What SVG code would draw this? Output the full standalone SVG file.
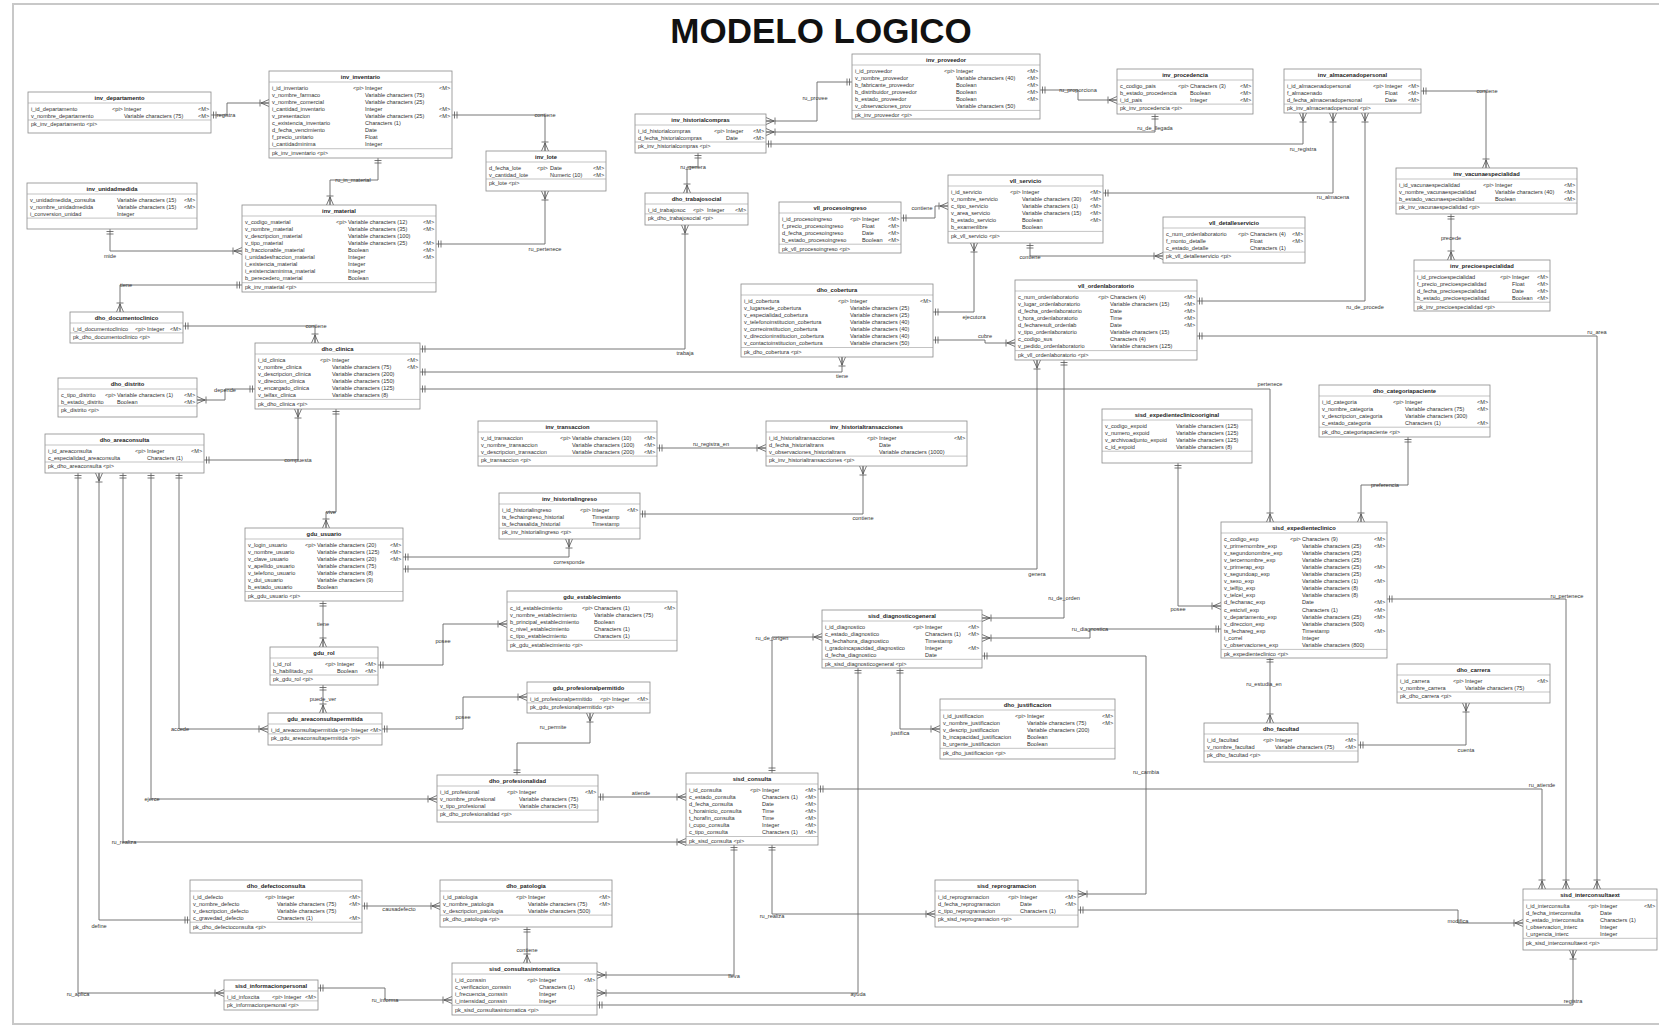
<svg xmlns="http://www.w3.org/2000/svg" width="1659" height="1027" viewBox="0 0 1659 1027">
<style>
.b{fill:#fff;stroke:#8a8a8a;stroke-width:0.8}
.s{stroke:#9a9a9a;stroke-width:0.6;fill:none}
.tt{font:bold 5.8px "Liberation Sans",Arial,sans-serif;fill:#222;text-anchor:middle}
.r{font:5.6px "Liberation Sans",Arial,sans-serif;fill:#333}
.c{fill:none;stroke:#666;stroke-width:0.9;marker-start:url(#one);marker-end:url(#many)}
.l{font:5.6px "Liberation Sans",Arial,sans-serif;fill:#333;text-anchor:middle}
.h{font:bold 35px "Liberation Sans",Arial,sans-serif;fill:#111;text-anchor:middle}
</style>
<defs>
<marker id="many" viewBox="0 0 10 10" refX="10" refY="5" markerWidth="10" markerHeight="10" markerUnits="userSpaceOnUse" orient="auto"><path d="M2 5L10 1.5M2 5L10 8.5M2 5H10M1 1.5V8.5" fill="none" stroke="#555" stroke-width="0.8"/></marker>
<marker id="one" viewBox="0 0 10 10" refX="10" refY="5" markerWidth="10" markerHeight="10" markerUnits="userSpaceOnUse" orient="auto-start-reverse"><path d="M5 1.5V8.5M7.5 1.5V8.5" fill="none" stroke="#555" stroke-width="0.8"/></marker>
</defs>
<rect x="0" y="0" width="1659" height="1027" fill="#fff"/>
<rect x="13" y="4" width="1660" height="1020" fill="none" stroke="#c8c8c8" stroke-width="2"/>
<text class="h" x="821" y="43">MODELO LOGICO</text>

<g id="connectors">
<path class="c" d="M211 115H227V103H269"/><text class="l" x="226" y="117">registra</text>
<path class="c" d="M378 158V180H330V205"/><text class="l" x="353" y="182">ru_in_material</text>
<path class="c" d="M110 229V251H242"/><text class="l" x="110" y="258">mide</text>
<path class="c" d="M242 285H120V312"/><text class="l" x="126" y="287">tiene</text>
<path class="c" d="M183 326H315V343"/><text class="l" x="316" y="328">contiene</text>
<path class="c" d="M452 115H545V151"/><text class="l" x="545" y="117">contiene</text>
<path class="c" d="M436 244H545V191"/><text class="l" x="545" y="251">ru_pertenece</text>
<path class="c" d="M698 153V167H687V193"/><text class="l" x="693" y="169">ru_genera</text>
<path class="c" d="M420 349H685V225"/><text class="l" x="685" y="355">trabaja</text>
<path class="c" d="M852 82H817V121H766"/><text class="l" x="815" y="100">ru_provee</text>
<path class="c" d="M1040 90H1078V100H1117"/><text class="l" x="1078" y="92">ru_proporciona</text>
<path class="c" d="M1155 114V132H766"/><text class="l" x="1155" y="130">ru_de_llegada</text>
<path class="c" d="M766 144H1303V113"/><text class="l" x="1303" y="151">ru_registra</text>
<path class="c" d="M1103 193H1333V113"/><text class="l" x="1333" y="199">ru_almacena</text>
<path class="c" d="M1197 301H1365V113"/><text class="l" x="1365" y="309">ru_de_procede</text>
<path class="c" d="M1421 91H1486V168"/><text class="l" x="1487" y="93">contiene</text>
<path class="c" d="M1451 214V260"/><text class="l" x="1451" y="240">precede</text>
<path class="c" d="M901 218H935V206H948"/><text class="l" x="922" y="210">contiene</text>
<path class="c" d="M1030 243V256H1163"/><text class="l" x="1030" y="259">contiene</text>
<path class="c" d="M933 312H974V243"/><text class="l" x="974" y="319">ejecutora</text>
<path class="c" d="M933 340H985V343H1015"/><text class="l" x="985" y="338">cubre</text>
<path class="c" d="M1197 336H1597V889"/><text class="l" x="1597" y="334">ru_area</text>
<path class="c" d="M420 372H842V357"/><text class="l" x="842" y="378">tiene</text>
<path class="c" d="M420 389H1270V522"/><text class="l" x="1270" y="386">pertenece</text>
<path class="c" d="M403 569H1037V360"/><text class="l" x="1037" y="576">genera</text>
<path class="c" d="M1064 360V618H982"/><text class="l" x="1064" y="600">ru_de_orden</text>
<path class="c" d="M657 448H766"/><text class="l" x="711" y="446">ru_registra_en</text>
<path class="c" d="M640 514H863V466"/><text class="l" x="863" y="520">contiene</text>
<path class="c" d="M403 557H569V539"/><text class="l" x="569" y="564">corresponde</text>
<path class="c" d="M323 601V647"/><text class="l" x="323" y="626">tiene</text>
<path class="c" d="M336 409V512H326V528"/><text class="l" x="331" y="514">vive</text>
<path class="c" d="M204 460H298V409"/><text class="l" x="298" y="462">compuesta</text>
<path class="c" d="M255 389H225V400H197"/><text class="l" x="225" y="392">depende</text>
<path class="c" d="M378 665H443V624H507"/><text class="l" x="443" y="643">posee</text>
<path class="c" d="M323 685V713"/><text class="l" x="323" y="701">puede_ver</text>
<path class="c" d="M179 473V729H268"/><text class="l" x="180" y="731">accede</text>
<path class="c" d="M382 729H463V697H527"/><text class="l" x="463" y="719">posee</text>
<path class="c" d="M517 775V743H590V713"/><text class="l" x="553" y="729">ru_permite</text>
<path class="c" d="M598 797H686"/><text class="l" x="641" y="795">atiende</text>
<path class="c" d="M151 473V799H437"/><text class="l" x="152" y="801">ejerce</text>
<path class="c" d="M123 473V842H686"/><text class="l" x="124" y="844">ru_realiza</text>
<path class="c" d="M190 920H99V473"/><text class="l" x="99" y="928">define</text>
<path class="c" d="M78 473V993H224"/><text class="l" x="78" y="996">ru_aplica</text>
<path class="c" d="M362 906H440"/><text class="l" x="399" y="911">causadefecto</text>
<path class="c" d="M527 927V963"/><text class="l" x="527" y="952">contiene</text>
<path class="c" d="M734 845V975H597"/><text class="l" x="734" y="978">lleva</text>
<path class="c" d="M772 845V914H935"/><text class="l" x="772" y="918">ru_realiza</text>
<path class="c" d="M772 773V637H822"/><text class="l" x="772" y="640">ru_de_origen</text>
<path class="c" d="M818 789H1542V889"/><text class="l" x="1542" y="787">ru_atiende</text>
<path class="c" d="M900 668V729H940"/><text class="l" x="900" y="735">justifica</text>
<path class="c" d="M858 668V993H597"/><text class="l" x="858" y="996">ayuda</text>
<path class="c" d="M597 1005H1573V950"/><text class="l" x="1573" y="1003">registra</text>
<path class="c" d="M318 988H385V1000H452"/><text class="l" x="385" y="1002">ru_informa</text>
<path class="c" d="M982 656H1146V894H1078"/><text class="l" x="1146" y="774">ru_cambia</text>
<path class="c" d="M1078 910H1458V923H1523"/><text class="l" x="1458" y="923">modifica</text>
<path class="c" d="M1178 463V606H1221"/><text class="l" x="1178" y="611">posee</text>
<path class="c" d="M1221 629H1090V638H982"/><text class="l" x="1090" y="631">ru_diagnostica</text>
<path class="c" d="M1408 437V485H1361V522"/><text class="l" x="1385" y="487">preferencia</text>
<path class="c" d="M1387 599H1566V889"/><text class="l" x="1567" y="598">ru_pertenece</text>
<path class="c" d="M1270 657V723"/><text class="l" x="1264" y="686">ru_estudia_en</text>
<path class="c" d="M1358 745H1466V703"/><text class="l" x="1466" y="752">cuenta</text>
</g>

<g id="inv_departamento"><rect class="b" x="28" y="92" width="183" height="41"/><text class="tt" x="119.5" y="100">inv_departamento</text><path class="s" d="M28 103H211M28 120H211"/>
<text class="r" y="110.5"><tspan x="31">i_id_departamento</tspan><tspan x="112">&lt;pi&gt;</tspan><tspan x="124">Integer</tspan><tspan x="198">&lt;M&gt;</tspan></text>
<text class="r" y="117.6"><tspan x="31">v_nombre_departamento</tspan><tspan x="124">Variable characters (75)</tspan><tspan x="198">&lt;M&gt;</tspan></text>
<text class="r" x="31" y="126.3">pk_inv_departamento &lt;pi&gt;</text></g>

<g id="inv_inventario"><rect class="b" x="269" y="71" width="183" height="87"/><text class="tt" x="360.5" y="79">inv_inventario</text><path class="s" d="M269 82H452M269 148.7H452"/>
<text class="r" y="89.5"><tspan x="272">i_id_inventario</tspan><tspan x="353">&lt;pi&gt;</tspan><tspan x="365">Integer</tspan><tspan x="439">&lt;M&gt;</tspan></text>
<text class="r" y="96.6"><tspan x="272">v_nombre_farmaco</tspan><tspan x="365">Variable characters (75)</tspan></text>
<text class="r" y="103.7"><tspan x="272">v_nombre_comercial</tspan><tspan x="365">Variable characters (25)</tspan></text>
<text class="r" y="110.8"><tspan x="272">i_cantidad_inventario</tspan><tspan x="365">Integer</tspan><tspan x="439">&lt;M&gt;</tspan></text>
<text class="r" y="117.9"><tspan x="272">v_presentacion</tspan><tspan x="365">Variable characters (25)</tspan><tspan x="439">&lt;M&gt;</tspan></text>
<text class="r" y="125"><tspan x="272">c_existencia_inventario</tspan><tspan x="365">Characters (1)</tspan></text>
<text class="r" y="132.1"><tspan x="272">d_fecha_vencimiento</tspan><tspan x="365">Date</tspan></text>
<text class="r" y="139.2"><tspan x="272">f_precio_unitario</tspan><tspan x="365">Float</tspan></text>
<text class="r" y="146.3"><tspan x="272">i_cantidadminima</tspan><tspan x="365">Integer</tspan></text>
<text class="r" x="272" y="155">pk_inv_inventario &lt;pi&gt;</text></g>

<g id="inv_unidadmedida"><rect class="b" x="27" y="183" width="170" height="46"/><text class="tt" x="112" y="191">inv_unidadmedida</text><path class="s" d="M27 194H197M27 218.1H197"/>
<text class="r" y="201.5"><tspan x="30">v_unidadmedida_consulta</tspan><tspan x="117">Variable characters (15)</tspan><tspan x="184">&lt;M&gt;</tspan></text>
<text class="r" y="208.6"><tspan x="30">v_nombre_unidadmedida</tspan><tspan x="117">Variable characters (15)</tspan><tspan x="184">&lt;M&gt;</tspan></text>
<text class="r" y="215.7"><tspan x="30">i_conversion_unidad</tspan><tspan x="117">Integer</tspan></text></g>

<g id="inv_material"><rect class="b" x="242" y="205" width="194" height="87"/><text class="tt" x="339" y="213">inv_material</text><path class="s" d="M242 216H436M242 282.7H436"/>
<text class="r" y="223.5"><tspan x="245">v_codigo_material</tspan><tspan x="336">&lt;pi&gt;</tspan><tspan x="348">Variable characters (12)</tspan><tspan x="423">&lt;M&gt;</tspan></text>
<text class="r" y="230.6"><tspan x="245">v_nombre_material</tspan><tspan x="348">Variable characters (35)</tspan><tspan x="423">&lt;M&gt;</tspan></text>
<text class="r" y="237.7"><tspan x="245">v_descripcion_material</tspan><tspan x="348">Variable characters (100)</tspan></text>
<text class="r" y="244.8"><tspan x="245">v_tipo_material</tspan><tspan x="348">Variable characters (25)</tspan><tspan x="423">&lt;M&gt;</tspan></text>
<text class="r" y="251.9"><tspan x="245">b_fraccionable_material</tspan><tspan x="348">Boolean</tspan><tspan x="423">&lt;M&gt;</tspan></text>
<text class="r" y="259"><tspan x="245">i_unidadesfraccion_material</tspan><tspan x="348">Integer</tspan><tspan x="423">&lt;M&gt;</tspan></text>
<text class="r" y="266.1"><tspan x="245">i_existencia_material</tspan><tspan x="348">Integer</tspan></text>
<text class="r" y="273.2"><tspan x="245">i_existenciaminima_material</tspan><tspan x="348">Integer</tspan></text>
<text class="r" y="280.3"><tspan x="245">b_perecedero_material</tspan><tspan x="348">Boolean</tspan></text>
<text class="r" x="245" y="289">pk_inv_material &lt;pi&gt;</text></g>

<g id="inv_lote"><rect class="b" x="486" y="151" width="120" height="40"/><text class="tt" x="546" y="159">inv_lote</text><path class="s" d="M486 162H606M486 179H606"/>
<text class="r" y="169.5"><tspan x="489">d_fecha_lote</tspan><tspan x="537">&lt;pi&gt;</tspan><tspan x="550">Date</tspan><tspan x="593">&lt;M&gt;</tspan></text>
<text class="r" y="176.6"><tspan x="489">v_cantidad_lote</tspan><tspan x="550">Numeric (10)</tspan><tspan x="593">&lt;M&gt;</tspan></text>
<text class="r" x="489" y="185.3">pk_lote &lt;pi&gt;</text></g>

<g id="inv_historialcompras"><rect class="b" x="635" y="114" width="131" height="39"/><text class="tt" x="700.5" y="122">inv_historialcompras</text><path class="s" d="M635 125H766M635 142H766"/>
<text class="r" y="132.5"><tspan x="638">i_id_historialcompras</tspan><tspan x="714">&lt;pi&gt;</tspan><tspan x="726">Integer</tspan><tspan x="753">&lt;M&gt;</tspan></text>
<text class="r" y="139.6"><tspan x="638">d_fecha_historialcompras</tspan><tspan x="726">Date</tspan><tspan x="753">&lt;M&gt;</tspan></text>
<text class="r" x="638" y="148.3">pk_inv_historialcompras &lt;pi&gt;</text></g>

<g id="dho_trabajosocial"><rect class="b" x="645" y="193" width="103" height="32"/><text class="tt" x="696.5" y="201">dho_trabajosocial</text><path class="s" d="M645 204H748M645 213.9H748"/>
<text class="r" y="211.5"><tspan x="648">i_id_trabajosoc</tspan><tspan x="693">&lt;pi&gt;</tspan><tspan x="707">Integer</tspan><tspan x="735">&lt;M&gt;</tspan></text>
<text class="r" x="648" y="220.2">pk_dho_trabajosocial &lt;pi&gt;</text></g>

<g id="inv_proveedor"><rect class="b" x="852" y="54" width="188" height="65"/><text class="tt" x="946" y="62">inv_proveedor</text><path class="s" d="M852 65H1040M852 110.4H1040"/>
<text class="r" y="72.5"><tspan x="855">i_id_proveedor</tspan><tspan x="944">&lt;pi&gt;</tspan><tspan x="956">Integer</tspan><tspan x="1027">&lt;M&gt;</tspan></text>
<text class="r" y="79.6"><tspan x="855">v_nombre_proveedor</tspan><tspan x="956">Variable characters (40)</tspan><tspan x="1027">&lt;M&gt;</tspan></text>
<text class="r" y="86.7"><tspan x="855">b_fabricante_proveedor</tspan><tspan x="956">Boolean</tspan><tspan x="1027">&lt;M&gt;</tspan></text>
<text class="r" y="93.8"><tspan x="855">b_distribuidor_proveedor</tspan><tspan x="956">Boolean</tspan><tspan x="1027">&lt;M&gt;</tspan></text>
<text class="r" y="100.9"><tspan x="855">b_estado_proveedor</tspan><tspan x="956">Boolean</tspan><tspan x="1027">&lt;M&gt;</tspan></text>
<text class="r" y="108"><tspan x="855">v_observaciones_prov</tspan><tspan x="956">Variable characters (50)</tspan></text>
<text class="r" x="855" y="116.7">pk_inv_proveedor &lt;pi&gt;</text></g>

<g id="inv_procedencia"><rect class="b" x="1117" y="69" width="136" height="45"/><text class="tt" x="1185" y="77">inv_procedencia</text><path class="s" d="M1117 80H1253M1117 104.1H1253"/>
<text class="r" y="87.5"><tspan x="1120">c_codigo_pais</tspan><tspan x="1178">&lt;pi&gt;</tspan><tspan x="1190">Characters (3)</tspan><tspan x="1240">&lt;M&gt;</tspan></text>
<text class="r" y="94.6"><tspan x="1120">b_estado_procedencia</tspan><tspan x="1190">Boolean</tspan><tspan x="1240">&lt;M&gt;</tspan></text>
<text class="r" y="101.7"><tspan x="1120">i_id_pais</tspan><tspan x="1190">Integer</tspan><tspan x="1240">&lt;M&gt;</tspan></text>
<text class="r" x="1120" y="110.4">pk_inv_procedencia &lt;pi&gt;</text></g>

<g id="inv_almacenadopersonal"><rect class="b" x="1284" y="69" width="137" height="44"/><text class="tt" x="1352.5" y="77">inv_almacenadopersonal</text><path class="s" d="M1284 80H1421M1284 104.1H1421"/>
<text class="r" y="87.5"><tspan x="1287">i_id_almacenadopersonal</tspan><tspan x="1373">&lt;pi&gt;</tspan><tspan x="1385">Integer</tspan><tspan x="1408">&lt;M&gt;</tspan></text>
<text class="r" y="94.6"><tspan x="1287">f_almacenado</tspan><tspan x="1385">Float</tspan><tspan x="1408">&lt;M&gt;</tspan></text>
<text class="r" y="101.7"><tspan x="1287">d_fecha_almacenadopersonal</tspan><tspan x="1385">Date</tspan><tspan x="1408">&lt;M&gt;</tspan></text>
<text class="r" x="1287" y="110.4">pk_inv_almacenadopersonal &lt;pi&gt;</text></g>

<g id="inv_vacunaespecialidad"><rect class="b" x="1396" y="168" width="181" height="46"/><text class="tt" x="1486.5" y="176">inv_vacunaespecialidad</text><path class="s" d="M1396 179H1577M1396 203.1H1577"/>
<text class="r" y="186.5"><tspan x="1399">i_id_vacunaespecialidad</tspan><tspan x="1483">&lt;pi&gt;</tspan><tspan x="1495">Integer</tspan><tspan x="1564">&lt;M&gt;</tspan></text>
<text class="r" y="193.6"><tspan x="1399">v_nombre_vacunaespecialidad</tspan><tspan x="1495">Variable characters (40)</tspan><tspan x="1564">&lt;M&gt;</tspan></text>
<text class="r" y="200.7"><tspan x="1399">b_estado_vacunaespecialidad</tspan><tspan x="1495">Boolean</tspan><tspan x="1564">&lt;M&gt;</tspan></text>
<text class="r" x="1399" y="209.4">pk_inv_vacunaespecialidad &lt;pi&gt;</text></g>

<g id="inv_precioespecialidad"><rect class="b" x="1414" y="260" width="136" height="51"/><text class="tt" x="1482" y="268">inv_precioespecialidad</text><path class="s" d="M1414 271H1550M1414 302.2H1550"/>
<text class="r" y="278.5"><tspan x="1417">i_id_precioespecialidad</tspan><tspan x="1500">&lt;pi&gt;</tspan><tspan x="1512">Integer</tspan><tspan x="1537">&lt;M&gt;</tspan></text>
<text class="r" y="285.6"><tspan x="1417">f_precio_precioespecialidad</tspan><tspan x="1512">Float</tspan><tspan x="1537">&lt;M&gt;</tspan></text>
<text class="r" y="292.7"><tspan x="1417">d_fecha_precioespecialidad</tspan><tspan x="1512">Date</tspan><tspan x="1537">&lt;M&gt;</tspan></text>
<text class="r" y="299.8"><tspan x="1417">b_estado_precioespecialidad</tspan><tspan x="1512">Boolean</tspan><tspan x="1537">&lt;M&gt;</tspan></text>
<text class="r" x="1417" y="308.5">pk_inv_precioespecialidad &lt;pi&gt;</text></g>

<g id="vll_procesoingreso"><rect class="b" x="779" y="202" width="122" height="51"/><text class="tt" x="840" y="210">vll_procesoingreso</text><path class="s" d="M779 213H901M779 244.2H901"/>
<text class="r" y="220.5"><tspan x="782">i_id_procesoingreso</tspan><tspan x="850">&lt;pi&gt;</tspan><tspan x="862">Integer</tspan><tspan x="888">&lt;M&gt;</tspan></text>
<text class="r" y="227.6"><tspan x="782">f_precio_procesoingreso</tspan><tspan x="862">Float</tspan><tspan x="888">&lt;M&gt;</tspan></text>
<text class="r" y="234.7"><tspan x="782">d_fecha_procesoingreso</tspan><tspan x="862">Date</tspan><tspan x="888">&lt;M&gt;</tspan></text>
<text class="r" y="241.8"><tspan x="782">b_estado_procesoingreso</tspan><tspan x="862">Boolean</tspan><tspan x="888">&lt;M&gt;</tspan></text>
<text class="r" x="782" y="250.5">pk_vll_procesoingreso &lt;pi&gt;</text></g>

<g id="vll_servicio"><rect class="b" x="948" y="175" width="155" height="68"/><text class="tt" x="1025.5" y="183">vll_servicio</text><path class="s" d="M948 186H1103M948 231.4H1103"/>
<text class="r" y="193.5"><tspan x="951">i_id_servicio</tspan><tspan x="1010">&lt;pi&gt;</tspan><tspan x="1022">Integer</tspan><tspan x="1090">&lt;M&gt;</tspan></text>
<text class="r" y="200.6"><tspan x="951">v_nombre_servicio</tspan><tspan x="1022">Variable characters (30)</tspan><tspan x="1090">&lt;M&gt;</tspan></text>
<text class="r" y="207.7"><tspan x="951">c_tipo_servicio</tspan><tspan x="1022">Variable characters (1)</tspan><tspan x="1090">&lt;M&gt;</tspan></text>
<text class="r" y="214.8"><tspan x="951">v_area_servicio</tspan><tspan x="1022">Variable characters (15)</tspan><tspan x="1090">&lt;M&gt;</tspan></text>
<text class="r" y="221.9"><tspan x="951">b_estado_servicio</tspan><tspan x="1022">Boolean</tspan><tspan x="1090">&lt;M&gt;</tspan></text>
<text class="r" y="229"><tspan x="951">b_examenlibre</tspan><tspan x="1022">Boolean</tspan></text>
<text class="r" x="951" y="237.7">pk_vll_servicio &lt;pi&gt;</text></g>

<g id="vll_detalleservicio"><rect class="b" x="1163" y="217" width="142" height="46"/><text class="tt" x="1234" y="225">vll_detalleservicio</text><path class="s" d="M1163 228H1305M1163 252.1H1305"/>
<text class="r" y="235.5"><tspan x="1166">c_num_ordenlaboratorio</tspan><tspan x="1238">&lt;pi&gt;</tspan><tspan x="1250">Characters (4)</tspan><tspan x="1292">&lt;M&gt;</tspan></text>
<text class="r" y="242.6"><tspan x="1166">f_monto_detalle</tspan><tspan x="1250">Float</tspan><tspan x="1292">&lt;M&gt;</tspan></text>
<text class="r" y="249.7"><tspan x="1166">c_estado_detalle</tspan><tspan x="1250">Characters (1)</tspan></text>
<text class="r" x="1166" y="258.4">pk_vll_detalleservicio &lt;pi&gt;</text></g>

<g id="vll_ordenlaboratorio"><rect class="b" x="1015" y="280" width="182" height="80"/><text class="tt" x="1106" y="288">vll_ordenlaboratorio</text><path class="s" d="M1015 291H1197M1015 350.6H1197"/>
<text class="r" y="298.5"><tspan x="1018">c_num_ordenlaboratorio</tspan><tspan x="1098">&lt;pi&gt;</tspan><tspan x="1110">Characters (4)</tspan><tspan x="1184">&lt;M&gt;</tspan></text>
<text class="r" y="305.6"><tspan x="1018">v_lugar_ordenlaboratorio</tspan><tspan x="1110">Variable characters (15)</tspan><tspan x="1184">&lt;M&gt;</tspan></text>
<text class="r" y="312.7"><tspan x="1018">d_fecha_ordenlaboratorio</tspan><tspan x="1110">Date</tspan><tspan x="1184">&lt;M&gt;</tspan></text>
<text class="r" y="319.8"><tspan x="1018">t_hora_ordenlaboratorio</tspan><tspan x="1110">Time</tspan><tspan x="1184">&lt;M&gt;</tspan></text>
<text class="r" y="326.9"><tspan x="1018">d_fecharesult_ordenlab</tspan><tspan x="1110">Date</tspan><tspan x="1184">&lt;M&gt;</tspan></text>
<text class="r" y="334"><tspan x="1018">v_tipo_ordenlaboratorio</tspan><tspan x="1110">Variable characters (15)</tspan></text>
<text class="r" y="341.1"><tspan x="1018">c_codigo_sus</tspan><tspan x="1110">Characters (4)</tspan></text>
<text class="r" y="348.2"><tspan x="1018">v_pedido_ordenlaboratorio</tspan><tspan x="1110">Variable characters (125)</tspan></text>
<text class="r" x="1018" y="356.9">pk_vll_ordenlaboratorio &lt;pi&gt;</text></g>

<g id="dho_cobertura"><rect class="b" x="741" y="284" width="192" height="73"/><text class="tt" x="837" y="292">dho_cobertura</text><path class="s" d="M741 295H933M741 347.5H933"/>
<text class="r" y="302.5"><tspan x="744">i_id_cobertura</tspan><tspan x="838">&lt;pi&gt;</tspan><tspan x="850">Integer</tspan><tspan x="920">&lt;M&gt;</tspan></text>
<text class="r" y="309.6"><tspan x="744">v_lugarsede_cobertura</tspan><tspan x="850">Variable characters (25)</tspan></text>
<text class="r" y="316.7"><tspan x="744">v_especialidad_cobertura</tspan><tspan x="850">Variable characters (25)</tspan></text>
<text class="r" y="323.8"><tspan x="744">v_telefonoinstitucion_cobertura</tspan><tspan x="850">Variable characters (40)</tspan></text>
<text class="r" y="330.9"><tspan x="744">v_correoinstitucion_cobertura</tspan><tspan x="850">Variable characters (40)</tspan></text>
<text class="r" y="338"><tspan x="744">v_direccioninstitucion_cobertura</tspan><tspan x="850">Variable characters (40)</tspan></text>
<text class="r" y="345.1"><tspan x="744">v_contactoinstitucion_cobertura</tspan><tspan x="850">Variable characters (50)</tspan></text>
<text class="r" x="744" y="353.8">pk_dho_cobertura &lt;pi&gt;</text></g>

<g id="dho_documentoclinico"><rect class="b" x="70" y="312" width="113" height="31"/><text class="tt" x="126.5" y="320">dho_documentoclinico</text><path class="s" d="M70 323H183M70 332.9H183"/>
<text class="r" y="330.5"><tspan x="73">i_id_documentoclinico</tspan><tspan x="135">&lt;pi&gt;</tspan><tspan x="147">Integer</tspan><tspan x="170">&lt;M&gt;</tspan></text>
<text class="r" x="73" y="339.2">pk_dho_documentoclinico &lt;pi&gt;</text></g>

<g id="dho_clinica"><rect class="b" x="255" y="343" width="165" height="66"/><text class="tt" x="337.5" y="351">dho_clinica</text><path class="s" d="M255 354H420M255 399.4H420"/>
<text class="r" y="361.5"><tspan x="258">i_id_clinica</tspan><tspan x="320">&lt;pi&gt;</tspan><tspan x="332">Integer</tspan><tspan x="407">&lt;M&gt;</tspan></text>
<text class="r" y="368.6"><tspan x="258">v_nombre_clinica</tspan><tspan x="332">Variable characters (75)</tspan><tspan x="407">&lt;M&gt;</tspan></text>
<text class="r" y="375.7"><tspan x="258">v_descripcion_clinica</tspan><tspan x="332">Variable characters (200)</tspan></text>
<text class="r" y="382.8"><tspan x="258">v_direccion_clinica</tspan><tspan x="332">Variable characters (150)</tspan></text>
<text class="r" y="389.9"><tspan x="258">v_encargado_clinica</tspan><tspan x="332">Variable characters (125)</tspan></text>
<text class="r" y="397"><tspan x="258">v_telfax_clinica</tspan><tspan x="332">Variable characters (8)</tspan></text>
<text class="r" x="258" y="405.7">pk_dho_clinica &lt;pi&gt;</text></g>

<g id="dho_distrito"><rect class="b" x="58" y="378" width="139" height="39"/><text class="tt" x="127.5" y="386">dho_distrito</text><path class="s" d="M58 389H197M58 406H197"/>
<text class="r" y="396.5"><tspan x="61">c_tipo_distrito</tspan><tspan x="105">&lt;pi&gt;</tspan><tspan x="117">Variable characters (1)</tspan><tspan x="184">&lt;M&gt;</tspan></text>
<text class="r" y="403.6"><tspan x="61">b_estado_distrito</tspan><tspan x="117">Boolean</tspan><tspan x="184">&lt;M&gt;</tspan></text>
<text class="r" x="61" y="412.3">pk_distrito &lt;pi&gt;</text></g>

<g id="dho_areaconsulta"><rect class="b" x="45" y="434" width="159" height="39"/><text class="tt" x="124.5" y="442">dho_areaconsulta</text><path class="s" d="M45 445H204M45 462H204"/>
<text class="r" y="452.5"><tspan x="48">i_id_areaconsulta</tspan><tspan x="135">&lt;pi&gt;</tspan><tspan x="147">Integer</tspan><tspan x="191">&lt;M&gt;</tspan></text>
<text class="r" y="459.6"><tspan x="48">c_especialidad_areaconsulta</tspan><tspan x="147">Characters (1)</tspan></text>
<text class="r" x="48" y="468.3">pk_dho_areaconsulta &lt;pi&gt;</text></g>

<g id="inv_transaccion"><rect class="b" x="478" y="421" width="179" height="45"/><text class="tt" x="567.5" y="429">inv_transaccion</text><path class="s" d="M478 432H657M478 456.1H657"/>
<text class="r" y="439.5"><tspan x="481">v_id_transaccion</tspan><tspan x="560">&lt;pi&gt;</tspan><tspan x="572">Variable characters (10)</tspan><tspan x="644">&lt;M&gt;</tspan></text>
<text class="r" y="446.6"><tspan x="481">v_nombre_transaccion</tspan><tspan x="572">Variable characters (100)</tspan><tspan x="644">&lt;M&gt;</tspan></text>
<text class="r" y="453.7"><tspan x="481">v_descripcion_transaccion</tspan><tspan x="572">Variable characters (200)</tspan><tspan x="644">&lt;M&gt;</tspan></text>
<text class="r" x="481" y="462.4">pk_transaccion &lt;pi&gt;</text></g>

<g id="inv_historialtransacciones"><rect class="b" x="766" y="421" width="201" height="45"/><text class="tt" x="866.5" y="429">inv_historialtransacciones</text><path class="s" d="M766 432H967M766 456.1H967"/>
<text class="r" y="439.5"><tspan x="769">i_id_historialtransacciones</tspan><tspan x="867">&lt;pi&gt;</tspan><tspan x="879">Integer</tspan><tspan x="954">&lt;M&gt;</tspan></text>
<text class="r" y="446.6"><tspan x="769">d_fecha_historialtrans</tspan><tspan x="879">Date</tspan></text>
<text class="r" y="453.7"><tspan x="769">v_observaciones_historialtrans</tspan><tspan x="879">Variable characters (1000)</tspan></text>
<text class="r" x="769" y="462.4">pk_inv_historialtransacciones &lt;pi&gt;</text></g>

<g id="inv_historialingreso"><rect class="b" x="499" y="493" width="141" height="46"/><text class="tt" x="569.5" y="501">inv_historialingreso</text><path class="s" d="M499 504H640M499 528.1H640"/>
<text class="r" y="511.5"><tspan x="502">i_id_historialingreso</tspan><tspan x="580">&lt;pi&gt;</tspan><tspan x="592">Integer</tspan><tspan x="627">&lt;M&gt;</tspan></text>
<text class="r" y="518.6"><tspan x="502">ts_fechaingreso_historial</tspan><tspan x="592">Timestamp</tspan></text>
<text class="r" y="525.7"><tspan x="502">ts_fechasalida_historial</tspan><tspan x="592">Timestamp</tspan></text>
<text class="r" x="502" y="534.4">pk_inv_historialingreso &lt;pi&gt;</text></g>

<g id="sisd_expedienteclinicooriginal"><rect class="b" x="1102" y="409" width="150" height="54"/><text class="tt" x="1177" y="417">sisd_expedienteclinicooriginal</text><path class="s" d="M1102 420H1252M1102 451.2H1252"/>
<text class="r" y="427.5"><tspan x="1105">v_codigo_expoid</tspan><tspan x="1176">Variable characters (125)</tspan></text>
<text class="r" y="434.6"><tspan x="1105">v_numero_expoid</tspan><tspan x="1176">Variable characters (125)</tspan></text>
<text class="r" y="441.7"><tspan x="1105">v_archivoadjunto_expoid</tspan><tspan x="1176">Variable characters (125)</tspan></text>
<text class="r" y="448.8"><tspan x="1105">c_id_expoid</tspan><tspan x="1176">Variable characters (8)</tspan></text></g>

<g id="dho_categoriapaciente"><rect class="b" x="1319" y="385" width="171" height="52"/><text class="tt" x="1404.5" y="393">dho_categoriapaciente</text><path class="s" d="M1319 396H1490M1319 427.2H1490"/>
<text class="r" y="403.5"><tspan x="1322">i_id_categoria</tspan><tspan x="1393">&lt;pi&gt;</tspan><tspan x="1405">Integer</tspan><tspan x="1477">&lt;M&gt;</tspan></text>
<text class="r" y="410.6"><tspan x="1322">v_nombre_categoria</tspan><tspan x="1405">Variable characters (75)</tspan><tspan x="1477">&lt;M&gt;</tspan></text>
<text class="r" y="417.7"><tspan x="1322">v_descripcion_categoria</tspan><tspan x="1405">Variable characters (300)</tspan></text>
<text class="r" y="424.8"><tspan x="1322">c_estado_categoria</tspan><tspan x="1405">Characters (1)</tspan><tspan x="1477">&lt;M&gt;</tspan></text>
<text class="r" x="1322" y="433.5">pk_dho_categoriapaciente &lt;pi&gt;</text></g>

<g id="gdu_usuario"><rect class="b" x="245" y="528" width="158" height="73"/><text class="tt" x="324" y="536">gdu_usuario</text><path class="s" d="M245 539H403M245 591.5H403"/>
<text class="r" y="546.5"><tspan x="248">v_login_usuario</tspan><tspan x="305">&lt;pi&gt;</tspan><tspan x="317">Variable characters (20)</tspan><tspan x="390">&lt;M&gt;</tspan></text>
<text class="r" y="553.6"><tspan x="248">v_nombre_usuario</tspan><tspan x="317">Variable characters (125)</tspan><tspan x="390">&lt;M&gt;</tspan></text>
<text class="r" y="560.7"><tspan x="248">v_clave_usuario</tspan><tspan x="317">Variable characters (20)</tspan><tspan x="390">&lt;M&gt;</tspan></text>
<text class="r" y="567.8"><tspan x="248">v_apellido_usuario</tspan><tspan x="317">Variable characters (75)</tspan></text>
<text class="r" y="574.9"><tspan x="248">v_telefono_usuario</tspan><tspan x="317">Variable characters (8)</tspan></text>
<text class="r" y="582"><tspan x="248">v_dui_usuario</tspan><tspan x="317">Variable characters (9)</tspan></text>
<text class="r" y="589.1"><tspan x="248">b_estado_usuario</tspan><tspan x="317">Boolean</tspan></text>
<text class="r" x="248" y="597.8">pk_gdu_usuario &lt;pi&gt;</text></g>

<g id="gdu_establecimiento"><rect class="b" x="507" y="591" width="170" height="60"/><text class="tt" x="592" y="599">gdu_establecimiento</text><path class="s" d="M507 602H677M507 640.3H677"/>
<text class="r" y="609.5"><tspan x="510">c_id_establecimiento</tspan><tspan x="582">&lt;pi&gt;</tspan><tspan x="594">Characters (1)</tspan><tspan x="664">&lt;M&gt;</tspan></text>
<text class="r" y="616.6"><tspan x="510">v_nombre_establecimiento</tspan><tspan x="594">Variable characters (75)</tspan></text>
<text class="r" y="623.7"><tspan x="510">b_principal_establecimiento</tspan><tspan x="594">Boolean</tspan></text>
<text class="r" y="630.8"><tspan x="510">c_nivel_establecimiento</tspan><tspan x="594">Characters (1)</tspan></text>
<text class="r" y="637.9"><tspan x="510">c_tipo_establecimiento</tspan><tspan x="594">Characters (1)</tspan></text>
<text class="r" x="510" y="646.6">pk_gdu_establecimiento &lt;pi&gt;</text></g>

<g id="gdu_rol"><rect class="b" x="270" y="647" width="108" height="38"/><text class="tt" x="324" y="655">gdu_rol</text><path class="s" d="M270 658H378M270 675H378"/>
<text class="r" y="665.5"><tspan x="273">i_id_rol</tspan><tspan x="325">&lt;pi&gt;</tspan><tspan x="337">Integer</tspan><tspan x="365">&lt;M&gt;</tspan></text>
<text class="r" y="672.6"><tspan x="273">b_habilitado_rol</tspan><tspan x="337">Boolean</tspan><tspan x="365">&lt;M&gt;</tspan></text>
<text class="r" x="273" y="681.3">pk_gdu_rol &lt;pi&gt;</text></g>

<g id="gdu_profesionalpermitido"><rect class="b" x="527" y="682" width="123" height="31"/><text class="tt" x="588.5" y="690">gdu_profesionalpermitido</text><path class="s" d="M527 693H650M527 702.9H650"/>
<text class="r" y="700.5"><tspan x="530">i_id_profesionalpermitido</tspan><tspan x="600">&lt;pi&gt;</tspan><tspan x="612">Integer</tspan><tspan x="637">&lt;M&gt;</tspan></text>
<text class="r" x="530" y="709.2">pk_gdu_profesionalpermitido &lt;pi&gt;</text></g>

<g id="gdu_areaconsultapermitida"><rect class="b" x="268" y="713" width="114" height="32"/><text class="tt" x="325" y="721">gdu_areaconsultapermitida</text><path class="s" d="M268 724H382M268 733.9H382"/>
<text class="r" y="731.5"><tspan x="271">i_id_areaconsultapermitida</tspan><tspan x="339">&lt;pi&gt;</tspan><tspan x="351">Integer</tspan><tspan x="370">&lt;M&gt;</tspan></text>
<text class="r" x="271" y="740.2">pk_gdu_areaconsultapermitida &lt;pi&gt;</text></g>

<g id="sisd_diagnosticogeneral"><rect class="b" x="822" y="610" width="160" height="58"/><text class="tt" x="902" y="618">sisd_diagnosticogeneral</text><path class="s" d="M822 621H982M822 659.3H982"/>
<text class="r" y="628.5"><tspan x="825">i_id_diagnostico</tspan><tspan x="913">&lt;pi&gt;</tspan><tspan x="925">Integer</tspan><tspan x="968">&lt;M&gt;</tspan></text>
<text class="r" y="635.6"><tspan x="825">c_estado_diagnostico</tspan><tspan x="925">Characters (1)</tspan><tspan x="968">&lt;M&gt;</tspan></text>
<text class="r" y="642.7"><tspan x="825">ts_fechahora_diagnostico</tspan><tspan x="925">Timestamp</tspan></text>
<text class="r" y="649.8"><tspan x="825">i_gradoincapacidad_diagnostico</tspan><tspan x="925">Integer</tspan><tspan x="968">&lt;M&gt;</tspan></text>
<text class="r" y="656.9"><tspan x="825">d_fecha_diagnostico</tspan><tspan x="925">Date</tspan></text>
<text class="r" x="825" y="665.6">pk_sisd_diagnosticogeneral &lt;pi&gt;</text></g>

<g id="sisd_expedienteclinico"><rect class="b" x="1221" y="522" width="166" height="136"/><text class="tt" x="1304" y="530">sisd_expedienteclinico</text><path class="s" d="M1221 533H1387M1221 649.4H1387"/>
<text class="r" y="540.5"><tspan x="1224">c_codigo_exp</tspan><tspan x="1290">&lt;pi&gt;</tspan><tspan x="1302">Characters (9)</tspan><tspan x="1374">&lt;M&gt;</tspan></text>
<text class="r" y="547.6"><tspan x="1224">v_primernombre_exp</tspan><tspan x="1302">Variable characters (25)</tspan><tspan x="1374">&lt;M&gt;</tspan></text>
<text class="r" y="554.7"><tspan x="1224">v_segundonombre_exp</tspan><tspan x="1302">Variable characters (25)</tspan></text>
<text class="r" y="561.8"><tspan x="1224">v_tercernombre_exp</tspan><tspan x="1302">Variable characters (25)</tspan></text>
<text class="r" y="568.9"><tspan x="1224">v_primerap_exp</tspan><tspan x="1302">Variable characters (25)</tspan><tspan x="1374">&lt;M&gt;</tspan></text>
<text class="r" y="576"><tspan x="1224">v_segundoap_exp</tspan><tspan x="1302">Variable characters (25)</tspan></text>
<text class="r" y="583.1"><tspan x="1224">v_sexo_exp</tspan><tspan x="1302">Variable characters (1)</tspan><tspan x="1374">&lt;M&gt;</tspan></text>
<text class="r" y="590.2"><tspan x="1224">v_telfijo_exp</tspan><tspan x="1302">Variable characters (8)</tspan></text>
<text class="r" y="597.3"><tspan x="1224">v_telcel_exp</tspan><tspan x="1302">Variable characters (8)</tspan></text>
<text class="r" y="604.4"><tspan x="1224">d_fechanac_exp</tspan><tspan x="1302">Date</tspan><tspan x="1374">&lt;M&gt;</tspan></text>
<text class="r" y="611.5"><tspan x="1224">c_estcivil_exp</tspan><tspan x="1302">Characters (1)</tspan><tspan x="1374">&lt;M&gt;</tspan></text>
<text class="r" y="618.6"><tspan x="1224">v_departamento_exp</tspan><tspan x="1302">Variable characters (25)</tspan><tspan x="1374">&lt;M&gt;</tspan></text>
<text class="r" y="625.7"><tspan x="1224">v_direccion_exp</tspan><tspan x="1302">Variable characters (500)</tspan></text>
<text class="r" y="632.8"><tspan x="1224">ts_fechareg_exp</tspan><tspan x="1302">Timestamp</tspan><tspan x="1374">&lt;M&gt;</tspan></text>
<text class="r" y="639.9"><tspan x="1224">i_correl</tspan><tspan x="1302">Integer</tspan></text>
<text class="r" y="647"><tspan x="1224">v_observaciones_exp</tspan><tspan x="1302">Variable characters (800)</tspan></text>
<text class="r" x="1224" y="655.7">pk_expedienteclinico &lt;pi&gt;</text></g>

<g id="dho_justificacion"><rect class="b" x="940" y="699" width="175" height="60"/><text class="tt" x="1027.5" y="707">dho_justificacion</text><path class="s" d="M940 710H1115M940 748.3H1115"/>
<text class="r" y="717.5"><tspan x="943">i_id_justificacion</tspan><tspan x="1015">&lt;pi&gt;</tspan><tspan x="1027">Integer</tspan><tspan x="1102">&lt;M&gt;</tspan></text>
<text class="r" y="724.6"><tspan x="943">v_nombre_justificacion</tspan><tspan x="1027">Variable characters (75)</tspan><tspan x="1102">&lt;M&gt;</tspan></text>
<text class="r" y="731.7"><tspan x="943">v_descrip_justificacion</tspan><tspan x="1027">Variable characters (200)</tspan></text>
<text class="r" y="738.8"><tspan x="943">b_incapacidad_justificacion</tspan><tspan x="1027">Boolean</tspan></text>
<text class="r" y="745.9"><tspan x="943">b_urgente_justificacion</tspan><tspan x="1027">Boolean</tspan></text>
<text class="r" x="943" y="754.6">pk_dho_justificacion &lt;pi&gt;</text></g>

<g id="dho_facultad"><rect class="b" x="1204" y="723" width="154" height="39"/><text class="tt" x="1281" y="731">dho_facultad</text><path class="s" d="M1204 734H1358M1204 751H1358"/>
<text class="r" y="741.5"><tspan x="1207">i_id_facultad</tspan><tspan x="1263">&lt;pi&gt;</tspan><tspan x="1275">Integer</tspan><tspan x="1345">&lt;M&gt;</tspan></text>
<text class="r" y="748.6"><tspan x="1207">v_nombre_facultad</tspan><tspan x="1275">Variable characters (75)</tspan><tspan x="1345">&lt;M&gt;</tspan></text>
<text class="r" x="1207" y="757.3">pk_dho_facultad &lt;pi&gt;</text></g>

<g id="dho_carrera"><rect class="b" x="1397" y="664" width="153" height="39"/><text class="tt" x="1473.5" y="672">dho_carrera</text><path class="s" d="M1397 675H1550M1397 692H1550"/>
<text class="r" y="682.5"><tspan x="1400">i_id_carrera</tspan><tspan x="1453">&lt;pi&gt;</tspan><tspan x="1465">Integer</tspan><tspan x="1537">&lt;M&gt;</tspan></text>
<text class="r" y="689.6"><tspan x="1400">v_nombre_carrera</tspan><tspan x="1465">Variable characters (75)</tspan></text>
<text class="r" x="1400" y="698.3">pk_dho_carrera &lt;pi&gt;</text></g>

<g id="dho_profesionalidad"><rect class="b" x="437" y="775" width="161" height="47"/><text class="tt" x="517.5" y="783">dho_profesionalidad</text><path class="s" d="M437 786H598M437 810.1H598"/>
<text class="r" y="793.5"><tspan x="440">i_id_profesional</tspan><tspan x="507">&lt;pi&gt;</tspan><tspan x="519">Integer</tspan><tspan x="585">&lt;M&gt;</tspan></text>
<text class="r" y="800.6"><tspan x="440">v_nombre_profesional</tspan><tspan x="519">Variable characters (75)</tspan></text>
<text class="r" y="807.7"><tspan x="440">v_tipo_profesional</tspan><tspan x="519">Variable characters (75)</tspan></text>
<text class="r" x="440" y="816.4">pk_dho_profesionalidad &lt;pi&gt;</text></g>

<g id="sisd_consulta"><rect class="b" x="686" y="773" width="132" height="72"/><text class="tt" x="752" y="781">sisd_consulta</text><path class="s" d="M686 784H818M686 836.5H818"/>
<text class="r" y="791.5"><tspan x="689">i_id_consulta</tspan><tspan x="750">&lt;pi&gt;</tspan><tspan x="762">Integer</tspan><tspan x="805">&lt;M&gt;</tspan></text>
<text class="r" y="798.6"><tspan x="689">c_estado_consulta</tspan><tspan x="762">Characters (1)</tspan><tspan x="805">&lt;M&gt;</tspan></text>
<text class="r" y="805.7"><tspan x="689">d_fecha_consulta</tspan><tspan x="762">Date</tspan><tspan x="805">&lt;M&gt;</tspan></text>
<text class="r" y="812.8"><tspan x="689">t_horainicio_consulta</tspan><tspan x="762">Time</tspan><tspan x="805">&lt;M&gt;</tspan></text>
<text class="r" y="819.9"><tspan x="689">t_horafin_consulta</tspan><tspan x="762">Time</tspan><tspan x="805">&lt;M&gt;</tspan></text>
<text class="r" y="827"><tspan x="689">i_cupo_consulta</tspan><tspan x="762">Integer</tspan><tspan x="805">&lt;M&gt;</tspan></text>
<text class="r" y="834.1"><tspan x="689">c_tipo_consulta</tspan><tspan x="762">Characters (1)</tspan><tspan x="805">&lt;M&gt;</tspan></text>
<text class="r" x="689" y="842.8">pk_sisd_consulta &lt;pi&gt;</text></g>

<g id="dho_patologia"><rect class="b" x="440" y="880" width="172" height="47"/><text class="tt" x="526" y="888">dho_patologia</text><path class="s" d="M440 891H612M440 915.1H612"/>
<text class="r" y="898.5"><tspan x="443">i_id_patologia</tspan><tspan x="516">&lt;pi&gt;</tspan><tspan x="528">Integer</tspan><tspan x="599">&lt;M&gt;</tspan></text>
<text class="r" y="905.6"><tspan x="443">v_nombre_patologia</tspan><tspan x="528">Variable characters (75)</tspan><tspan x="599">&lt;M&gt;</tspan></text>
<text class="r" y="912.7"><tspan x="443">v_descripcion_patologia</tspan><tspan x="528">Variable characters (500)</tspan></text>
<text class="r" x="443" y="921.4">pk_dho_patologia &lt;pi&gt;</text></g>

<g id="dho_defectoconsulta"><rect class="b" x="190" y="880" width="172" height="53"/><text class="tt" x="276" y="888">dho_defectoconsulta</text><path class="s" d="M190 891H362M190 922.2H362"/>
<text class="r" y="898.5"><tspan x="193">i_id_defecto</tspan><tspan x="265">&lt;pi&gt;</tspan><tspan x="277">Integer</tspan><tspan x="349">&lt;M&gt;</tspan></text>
<text class="r" y="905.6"><tspan x="193">v_nombre_defecto</tspan><tspan x="277">Variable characters (75)</tspan><tspan x="349">&lt;M&gt;</tspan></text>
<text class="r" y="912.7"><tspan x="193">v_descripcion_defecto</tspan><tspan x="277">Variable characters (75)</tspan></text>
<text class="r" y="919.8"><tspan x="193">c_gravedad_defecto</tspan><tspan x="277">Characters (1)</tspan><tspan x="349">&lt;M&gt;</tspan></text>
<text class="r" x="193" y="928.5">pk_dho_defectoconsulta &lt;pi&gt;</text></g>

<g id="sisd_consultasintomatica"><rect class="b" x="452" y="963" width="145" height="52"/><text class="tt" x="524.5" y="971">sisd_consultasintomatica</text><path class="s" d="M452 974H597M452 1005.2H597"/>
<text class="r" y="981.5"><tspan x="455">i_id_conssin</tspan><tspan x="527">&lt;pi&gt;</tspan><tspan x="539">Integer</tspan><tspan x="584">&lt;M&gt;</tspan></text>
<text class="r" y="988.6"><tspan x="455">c_verificacion_conssin</tspan><tspan x="539">Characters (1)</tspan></text>
<text class="r" y="995.7"><tspan x="455">i_frecuencia_conssin</tspan><tspan x="539">Integer</tspan></text>
<text class="r" y="1002.8"><tspan x="455">i_intensidad_conssin</tspan><tspan x="539">Integer</tspan></text>
<text class="r" x="455" y="1011.5">pk_sisd_consultasintomatica &lt;pi&gt;</text></g>

<g id="sisd_informacionpersonal"><rect class="b" x="224" y="980" width="94" height="30"/><text class="tt" x="271" y="988">sisd_informacionpersonal</text><path class="s" d="M224 991H318M224 1000.9H318"/>
<text class="r" y="998.5"><tspan x="227">i_id_infoxcita</tspan><tspan x="272">&lt;pi&gt;</tspan><tspan x="284">Integer</tspan><tspan x="305">&lt;M&gt;</tspan></text>
<text class="r" x="227" y="1007.2">pk_informacionpersonal &lt;pi&gt;</text></g>

<g id="sisd_reprogramacion"><rect class="b" x="935" y="880" width="143" height="47"/><text class="tt" x="1006.5" y="888">sisd_reprogramacion</text><path class="s" d="M935 891H1078M935 915.1H1078"/>
<text class="r" y="898.5"><tspan x="938">i_id_reprogramacion</tspan><tspan x="1008">&lt;pi&gt;</tspan><tspan x="1020">Integer</tspan><tspan x="1065">&lt;M&gt;</tspan></text>
<text class="r" y="905.6"><tspan x="938">d_fecha_reprogramacion</tspan><tspan x="1020">Date</tspan><tspan x="1065">&lt;M&gt;</tspan></text>
<text class="r" y="912.7"><tspan x="938">c_tipo_reprogramacion</tspan><tspan x="1020">Characters (1)</tspan></text>
<text class="r" x="938" y="921.4">pk_sisd_reprogramacion &lt;pi&gt;</text></g>

<g id="sisd_interconsultaext"><rect class="b" x="1523" y="889" width="134" height="61"/><text class="tt" x="1590" y="897">sisd_interconsultaext</text><path class="s" d="M1523 900H1657M1523 938.3H1657"/>
<text class="r" y="907.5"><tspan x="1526">i_id_interconsulta</tspan><tspan x="1588">&lt;pi&gt;</tspan><tspan x="1600">Integer</tspan><tspan x="1644">&lt;M&gt;</tspan></text>
<text class="r" y="914.6"><tspan x="1526">d_fecha_interconsulta</tspan><tspan x="1600">Date</tspan></text>
<text class="r" y="921.7"><tspan x="1526">c_estado_interconsulta</tspan><tspan x="1600">Characters (1)</tspan></text>
<text class="r" y="928.8"><tspan x="1526">i_observacion_interc</tspan><tspan x="1600">Integer</tspan></text>
<text class="r" y="935.9"><tspan x="1526">i_urgencia_interc</tspan><tspan x="1600">Integer</tspan></text>
<text class="r" x="1526" y="944.6">pk_sisd_interconsultaext &lt;pi&gt;</text></g>
</svg>
